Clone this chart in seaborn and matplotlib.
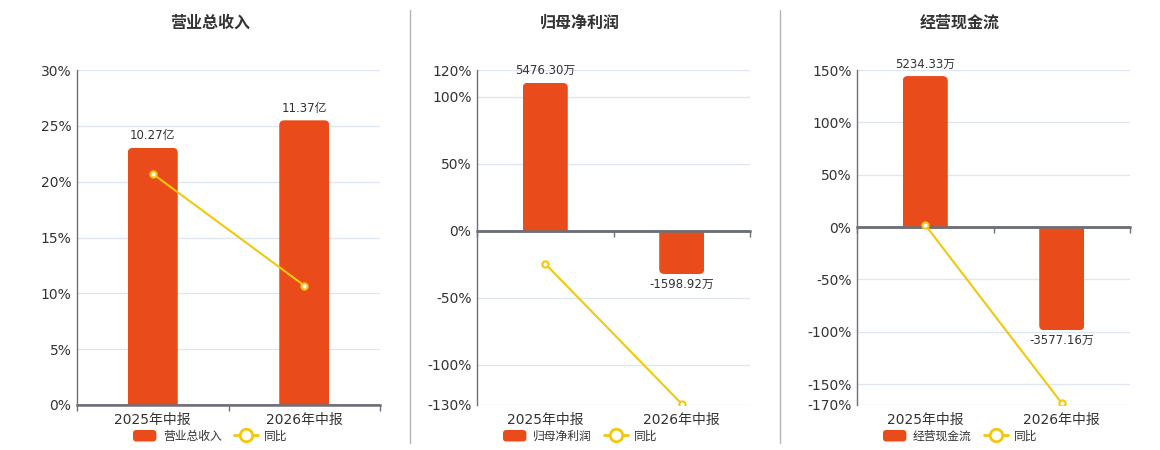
import matplotlib.pyplot as plt
import matplotlib.transforms as mtransforms
import seaborn as sns
from matplotlib.legend_handler import HandlerPatch
from matplotlib.lines import Line2D
from matplotlib.patches import FancyBboxPatch, Patch, Rectangle

# Data
categories = ["2025年中报", "2026年中报"]

revenue = [10.27, 11.37]            # 亿
revenue_labels = ["10.27亿", "11.37亿"]
revenue_yoy = [20.7, 10.7]          # %

profit = [5476.30, -1598.92]        # 万
profit_labels = ["5476.30万", "-1598.92万"]
profit_yoy = [-24.6, -129.2]

cashflow = [5234.33, -3577.16]      # 万
cashflow_labels = ["5234.33万", "-3577.16万"]
cashflow_yoy = [2.0, -168.3]

BAR_COLOR = "#e94b1b"
LINE_COLOR = "#f3c80c"
AXIS_COLOR = "#6e7079"
GRID_COLOR = "#e0e6f1"
TEXT_COLOR = "#333333"

W, H = 1160, 450

sns.set_theme(style="white")
plt.rcParams["font.family"] = ["DejaVu Sans", "Noto Sans CJK SC"]

panels = [
    dict(title="营业总收入", values=revenue, labels=revenue_labels, yoy=revenue_yoy,
         ylim=(0, 30), ticks=[0, 5, 10, 15, 20, 25, 30], bar_ylim=(0, 13.38),
         left=77, width=303, center=210),
    dict(title="归母净利润", values=profit, labels=profit_labels, yoy=profit_yoy,
         ylim=(-130, 120), ticks=[-130, -100, -50, 0, 50, 100, 120],
         bar_ylim=(-6448, 5952), left=477, width=273, center=580),
    dict(title="经营现金流", values=cashflow, labels=cashflow_labels, yoy=cashflow_yoy,
         ylim=(-170, 150), ticks=[-170, -150, -100, -50, 0, 50, 100, 150],
         bar_ylim=(-6171, 5445), left=857, width=273, center=960),
]


def round_bars(ax, radius_px=5):
    # rounded outer end only: a rounded box pushed past the base, clipped to the bar
    inv = ax.transData.inverted()
    (x0, y0), (x1, y1) = inv.transform([(0, 0), (1, 1)])
    dx, dy = x1 - x0, y1 - y0
    for p in list(ax.patches):
        x, y, w, h = p.get_x(), p.get_y(), p.get_width(), p.get_height()
        lo, hi = min(y, y + h), max(y, y + h)
        ext = 2 * radius_px * dy
        if h >= 0:
            lo -= ext
        else:
            hi += ext
        rounded = FancyBboxPatch((x, lo), w, hi - lo,
                                 boxstyle=f"round,pad=0,rounding_size={radius_px * dx}",
                                 mutation_aspect=dy / dx, fc=BAR_COLOR, ec="none")
        ax.add_patch(rounded)
        clip = Rectangle((x, min(y, y + h)), w, abs(h), transform=ax.transData)
        rounded.set_clip_path(clip)
        p.set_visible(False)


def rounded_handle(legend, orig_handle, xdescent, ydescent, width, height, fontsize):
    return FancyBboxPatch((-xdescent, -ydescent), width, height,
                          boxstyle="round,pad=0,rounding_size=3")


fig = plt.figure(figsize=(W / 100, H / 100), dpi=100)

for cfg in panels:
    ax = fig.add_axes([cfg["left"] / W, 45 / H, cfg["width"] / W, 335 / H])
    bar_ax = ax.twinx()
    line_ax = ax.twinx()

    sns.barplot(x=categories, y=cfg["values"], ax=bar_ax, color=BAR_COLOR,
                saturation=1, width=0.33, linewidth=0)
    bar_ax.set_xlim(-0.5, 1.5)
    bar_ax.set_ylim(*cfg["bar_ylim"])
    bar_ax.set_axis_off()
    round_bars(bar_ax)

    for i, (v, lab) in enumerate(zip(cfg["values"], cfg["labels"])):
        bar_ax.annotate(lab, (i, v), xytext=(0, 4 if v > 0 else -3),
                        textcoords="offset points", ha="center",
                        va="bottom" if v > 0 else "top",
                        fontsize=8.5, color=TEXT_COLOR)

    sns.lineplot(x=categories, y=cfg["yoy"], ax=line_ax, sort=False, color=LINE_COLOR,
                 lw=1.5, marker="o", markersize=4.5, markerfacecolor="white",
                 markeredgecolor=LINE_COLOR, markeredgewidth=1.5)
    line_ax.set_ylim(*cfg["ylim"])
    line_ax.axhline(0, color=AXIS_COLOR, lw=1.8, zorder=1)
    line_ax.set_axis_off()

    # percent axis
    ax.set_ylim(*cfg["ylim"])
    ax.set_yticks(cfg["ticks"])
    ax.set_yticklabels([f"{t}%" for t in cfg["ticks"]])
    ax.tick_params(axis="y", left=False, length=0, pad=4, labelsize=10, labelcolor=TEXT_COLOR)
    ax.grid(axis="y", color=GRID_COLOR, lw=1)
    ax.set_axisbelow(True)
    for s in ["top", "right"]:
        ax.spines[s].set_visible(False)
    ax.spines["left"].set_color(AXIS_COLOR)
    ax.spines["left"].set_linewidth(1)
    ax.spines["bottom"].set_position(("data", 0))
    ax.spines["bottom"].set_color(AXIS_COLOR)
    ax.spines["bottom"].set_linewidth(1.8)
    ax.set_xlim(-0.5, 1.5)
    ax.set_xticks([-0.5, 0.5, 1.5])
    ax.set_xticklabels([])
    ax.tick_params(axis="x", bottom=True, length=4, width=1, color=AXIS_COLOR, direction="out")

    trans = mtransforms.blended_transform_factory(ax.transData, ax.transAxes)
    for i, c in enumerate(categories):
        ax.text(i, -0.045, c, transform=trans, ha="center", va="center",
                fontsize=10, color=TEXT_COLOR)

    fig.text(cfg["center"] / W, 1 - 23 / H, cfg["title"], ha="center", va="center",
             fontsize=11.5, fontweight="bold", color=TEXT_COLOR)

    handles = [
        Patch(facecolor=BAR_COLOR, label=cfg["title"]),
        Line2D([0], [0], color=LINE_COLOR, lw=2, marker="o", markersize=9,
               markerfacecolor="white", markeredgecolor=LINE_COLOR,
               markeredgewidth=2, label="同比"),
    ]
    fig.legend(handles=handles, loc="center", bbox_to_anchor=(cfg["center"] / W, 1 - 436 / H),
               ncol=2, frameon=False, fontsize=8.5, handlelength=2.1, handleheight=1.3,
               handletextpad=0.5, columnspacing=1.0, labelcolor=TEXT_COLOR,
               handler_map={Patch: HandlerPatch(patch_func=rounded_handle)})

# panel dividers
for xd in [410, 780]:
    fig.add_artist(Line2D([xd / W, xd / W], [1 - 10 / H, 1 - 443 / H],
                          color="#b5b5b5", lw=1, transform=fig.transFigure))

fig.savefig("out.png", dpi=100)
